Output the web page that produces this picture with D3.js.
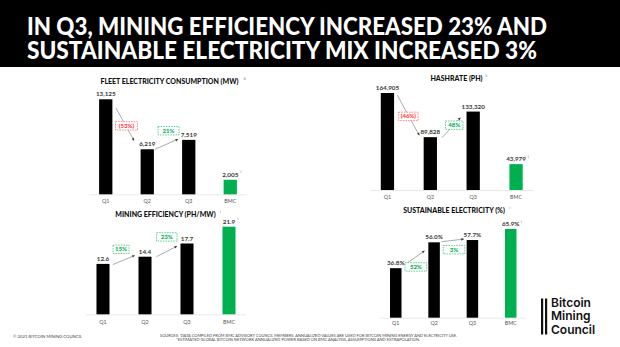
<!DOCTYPE html>
<html>
<head>
<meta charset="utf-8">
<script src="https://cdn.jsdelivr.net/npm/d3@7"></script>
<style>
  html, body { margin: 0; padding: 0; background: #fff; }
  svg { display: block; }
</style>
</head>
<body>
<svg id="chart"></svg>
<script>
// data
var quarters = ["Q1", "Q2", "Q3", "BMC"];
var fleetMW = [13125, 6219, 7519, 2005];
var hashratePH = [164905, 89828, 133320, 43979];
var efficiency = [12.6, 14.4, 17.7, 21.9];
var sustainable = [36.8, 56.0, 57.7, 65.9];

var fleetLabels = ["13,125", "6,219", "7,519", "2,005"];
var hashLabels = ["164,905", "89,828", "133,320", "43,979"];
var effLabels = ["12.6", "14.4", "17.7", "21.9"];
var sustLabels = ["36.8%", "56.0%", "57.7%", "65.9%"];

var fleetChange = ["(53%)", "21%"];
var hashChange = ["(46%)", "48%"];
var effChange = ["15%", "23%"];
var sustChange = ["52%", "3%"];

var W = 620, H = 347;
var RED = "#ff3b3b", GREEN = "#00b050";

var svg = d3.select("#chart")
    .attr("width", W)
    .attr("height", H);

// header band
svg.append("rect")
    .attr("x", 0).attr("y", 0)
    .attr("width", W).attr("height", 67)
    .attr("fill", "#000");

var titleLines = ["IN Q3, MINING EFFICIENCY INCREASED 23% AND",
    "SUSTAINABLE ELECTRICITY MIX INCREASED 3%"];
var titleLen = [520, 510];

svg.selectAll(".title")
    .data(titleLines)
    .enter().append("text")
    .attr("class", "title")
    .attr("x", 27)
    .attr("y", function (d, i) { return 35 + i * 23.5; })
    .attr("textLength", function (d, i) { return titleLen[i]; })
    .attr("lengthAdjust", "spacingAndGlyphs")
    .attr("fill", "#fff")
    .style("font-family", "Lato, 'DejaVu Sans', sans-serif")
    .style("font-weight", 900)
    .style("font-size", "24.5px")
    .text(function (d) { return d; });

// one small bar panel
function drawPanel(cfg) {
    var x = d3.scaleBand()
        .domain(quarters)
        .range(cfg.xRange)
        .paddingInner(cfg.pad)
        .paddingOuter(cfg.pad / 2);

    var y = d3.scaleLinear()
        .domain([0, d3.max(cfg.values)])
        .range([cfg.bottom, cfg.maxTop]);

    var g = svg.append("g");

    g.append("line")
        .attr("x1", cfg.xRange[0] + 4)
        .attr("x2", cfg.xRange[1] - 4)
        .attr("y1", cfg.bottom + 0.5)
        .attr("y2", cfg.bottom + 0.5)
        .attr("stroke", "#e3e3e3")
        .attr("stroke-width", 0.8);

    g.selectAll(".bar")
        .data(cfg.values)
        .enter().append("rect")
        .attr("x", function (d, i) { return x(quarters[i]); })
        .attr("y", function (d) { return y(d); })
        .attr("width", x.bandwidth())
        .attr("height", function (d) { return cfg.bottom - y(d); })
        .attr("fill", function (d, i) { return i == 3 ? GREEN : "#000"; });

    g.selectAll(".val")
        .data(cfg.values)
        .enter().append("text")
        .attr("x", function (d, i) { return x(quarters[i]) + x.bandwidth() / 2; })
        .attr("y", function (d) { return y(d) - 3; })
        .attr("text-anchor", "middle")
        .attr("fill", "#3a3a3a")
        .style("font-family", "Lato, sans-serif")
        .style("font-weight", 700)
        .style("font-size", "6.3px")
        .text(function (d, i) { return cfg.labels[i]; });

    // footnote marker next to the BMC value
    g.append("text")
        .attr("x", x("BMC") + x.bandwidth() / 2 + cfg.labels[3].length * 1.75 + 1.5)
        .attr("y", y(cfg.values[3]) - 6.5)
        .attr("fill", "#555")
        .style("font-family", "Lato, sans-serif")
        .style("font-size", "3.2px")
        .text("i");

    g.selectAll(".cat")
        .data(quarters)
        .enter().append("text")
        .attr("x", function (d) { return x(d) + x.bandwidth() / 2; })
        .attr("y", cfg.bottom + cfg.catDy)
        .attr("text-anchor", "middle")
        .attr("fill", "#555")
        .style("font-family", "Lato, sans-serif")
        .style("font-size", "5.3px")
        .text(function (d) { return d; });

    g.append("text")
        .attr("x", cfg.titleX)
        .attr("y", cfg.titleY)
        .attr("text-anchor", "middle")
        .attr("fill", "#111")
        .style("font-family", "Lato, sans-serif")
        .style("font-weight", 900)
        .style("font-size", "7px")
        .text(cfg.title);

    g.append("text")
        .attr("x", cfg.titleX + cfg.titleHalf + 2)
        .attr("y", cfg.titleY - 4)
        .attr("fill", "#555")
        .style("font-family", "Lato, sans-serif")
        .style("font-size", "3px")
        .text(cfg.titleNote);

    // change arrows and dashed boxes between quarters
    cfg.changes.forEach(function (txt, i) {
        var x1 = x(quarters[i]) + x.bandwidth() + cfg.arrows[i][0];
        var y1 = y(cfg.values[i]) + cfg.arrows[i][1];
        var x2 = x(quarters[i + 1]) - cfg.arrows[i][2];
        var y2 = y(cfg.values[i + 1]) + cfg.arrows[i][3];

        g.append("line")
            .attr("x1", x1).attr("y1", y1)
            .attr("x2", x2).attr("y2", y2)
            .attr("stroke", "#555")
            .attr("stroke-width", 0.5);

        var ang = Math.atan2(y2 - y1, x2 - x1);
        var hl = 2.6, hw = 1.3;
        var pts = [
            [x2, y2],
            [x2 - hl * Math.cos(ang) + hw * Math.sin(ang), y2 - hl * Math.sin(ang) - hw * Math.cos(ang)],
            [x2 - hl * Math.cos(ang) - hw * Math.sin(ang), y2 - hl * Math.sin(ang) + hw * Math.cos(ang)]
        ];
        g.append("polygon")
            .attr("points", pts.map(function (p) { return p.join(","); }).join(" "))
            .attr("fill", "#333");

        var col = txt.charAt(0) == "(" ? RED : GREEN;
        var cx = (x1 + x2) / 2 + cfg.boxes[i][0];
        var cy = (y1 + y2) / 2 + cfg.boxes[i][1];
        var bw = cfg.boxes[i][2], bh = 8.4;

        g.append("rect")
            .attr("x", cx - bw / 2).attr("y", cy - bh / 2)
            .attr("width", bw).attr("height", bh)
            .attr("fill", "#fff")
            .attr("stroke", col)
            .attr("stroke-width", 0.6)
            .attr("stroke-dasharray", "1.6,1");

        g.append("text")
            .attr("x", cx)
            .attr("y", cy + 2.1)
            .attr("text-anchor", "middle")
            .attr("fill", col)
            .style("font-family", "Lato, sans-serif")
            .style("font-weight", 900)
            .style("font-size", "6px")
            .text(txt);
    });
}

drawPanel({
    values: fleetMW, labels: fleetLabels, changes: fleetChange,
    xRange: [85, 251], pad: 0.68, bottom: 194.3, maxTop: 99.3, catDy: 9,
    title: "FLEET ELECTRICITY CONSUMPTION (MW)", titleX: 169.5, titleY: 83.5, titleHalf: 72, titleNote: "iii",
    arrows: [[3.5, 8.7, 6.5, -8.6], [1, 0, 4, -0.7]],
    boxes: [[1.5, 1.5, 22], [2, -13.5, 21]]
});

drawPanel({
    values: hashratePH, labels: hashLabels, changes: hashChange,
    xRange: [366, 537.5], pad: 0.69, bottom: 190, maxTop: 93, catDy: 8.6,
    title: "HASHRATE (PH)", titleX: 456.5, titleY: 81.2, titleHalf: 27, titleNote: "ii",
    arrows: [[3.3, 2.3, 4.3, -1.7], [5, 0.6, 6, 6]],
    boxes: [[0, 1, 19.5], [3, -2.5, 17.5]]
});

drawPanel({
    values: efficiency, labels: effLabels, changes: effChange,
    xRange: [82, 250], pad: 0.69, bottom: 314.3, maxTop: 226.7, catDy: 9.3,
    title: "MINING EFFICIENCY (PH/MW)", titleX: 165.5, titleY: 216.8, titleHalf: 52.5, titleNote: "i",
    arrows: [[3.3, 0.7, 3.7, -1.3], [5, 0, 3.4, 2.6]],
    boxes: [[-2.8, -10.7, 16], [0, -14.5, 20.5]]
});

drawPanel({
    values: sustainable, labels: sustLabels, changes: sustChange,
    xRange: [376.6, 529.9], pad: 0.70, bottom: 317.7, maxTop: 229, catDy: 6.8,
    title: "SUSTAINABLE ELECTRICITY (%)", titleX: 454, titleY: 213.2, titleHalf: 53.5, titleNote: "i",
    arrows: [[4, -4, 3.7, 8.4], [1.7, -0.6, 2.7, -1]],
    boxes: [[0.8, 9.5, 21.7], [1.3, 9.3, 21.7]]
});

// footer
svg.append("text")
    .attr("x", 13)
    .attr("y", 337.5)
    .attr("textLength", 69)
    .attr("lengthAdjust", "spacingAndGlyphs")
    .attr("fill", "#444")
    .style("font-family", "Lato, sans-serif")
    .style("font-size", "4px")
    .text("\u00a9 2021 BITCOIN MINING COUNCIL");

var sources = [
    "SOURCES: \u2071DATA COMPILED FROM BMC ADVISORY COUNCIL MEMBERS, ANNUALIZED VALUES ARE USED FOR BITCOIN MINING ENERGY AND ELECTRICITY USE.",
    "\u2071\u2071ESTIMATED GLOBAL BITCOIN NETWORK ANNUALIZED POWER BASED ON BMC ANALYSIS, ASSUMPTIONS AND EXTRAPOLATION."
];
var srcX = [160, 176], srcLen = [297, 244];

svg.selectAll(".src")
    .data(sources)
    .enter().append("text")
    .attr("x", function (d, i) { return srcX[i]; })
    .attr("y", function (d, i) { return 337 + i * 3.6; })
    .attr("textLength", function (d, i) { return srcLen[i]; })
    .attr("lengthAdjust", "spacingAndGlyphs")
    .attr("fill", "#444")
    .style("font-family", "Lato, sans-serif")
    .style("font-size", "3.4px")
    .text(function (d) { return d; });

// logo
var logo = svg.append("g");
logo.append("rect")
    .attr("x", 541).attr("y", 298.5)
    .attr("width", 2.2).attr("height", 36)
    .attr("fill", "#111");
logo.append("rect")
    .attr("x", 545).attr("y", 298.5)
    .attr("width", 2.2).attr("height", 36)
    .attr("fill", "#111");
logo.selectAll("text")
    .data(["Bitcoin", "Mining", "Council"])
    .enter().append("text")
    .attr("x", 551)
    .attr("y", function (d, i) { return 307 + i * 13.3; })
    .attr("fill", "#111")
    .style("font-family", "Inter, sans-serif")
    .style("font-weight", 600)
    .style("font-size", "12px")
    .text(function (d) { return d; });
</script>
</body>
</html>
